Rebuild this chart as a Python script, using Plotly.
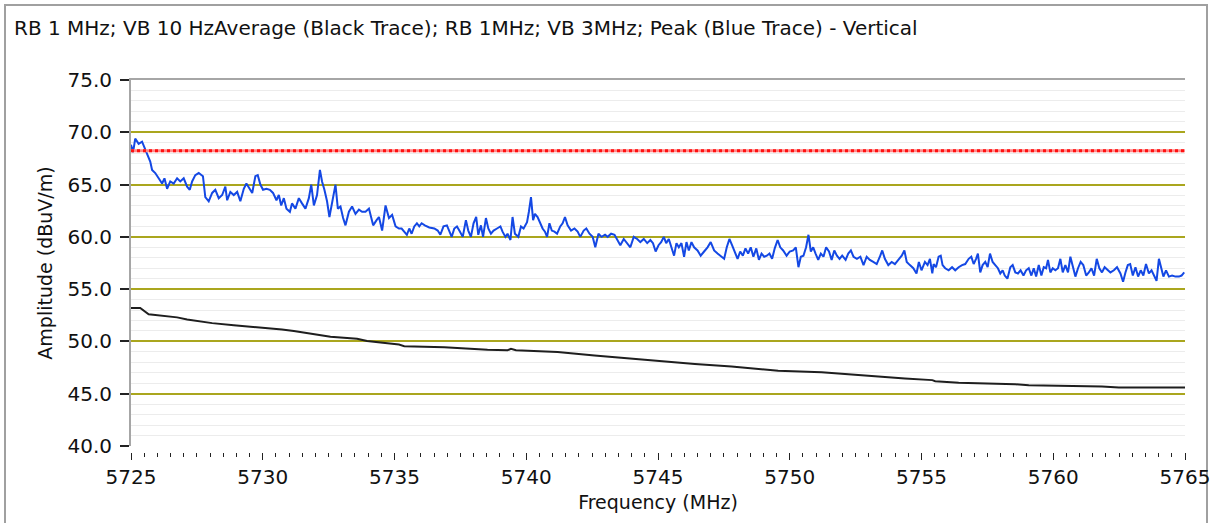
import plotly.graph_objects as go

# ---------------- data ----------------
peak_freq_a = [5725.00, 5725.08, 5725.16, 5725.29, 5725.42, 5725.54, 5725.63, 5725.73, 5725.80, 5725.92,
               5726.05, 5726.18, 5726.27, 5726.37, 5726.49, 5726.62, 5726.75, 5726.87, 5727.00, 5727.13,
               5727.23, 5727.32, 5727.44, 5727.57, 5727.73, 5727.82, 5727.95, 5728.08, 5728.20, 5728.33,
               5728.46, 5728.58, 5728.65, 5728.77, 5728.90, 5729.03, 5729.15, 5729.28, 5729.38, 5729.51,
               5729.60, 5729.72, 5729.81, 5729.91, 5730.01, 5730.14, 5730.27, 5730.39, 5730.52, 5730.61,
               5730.70, 5730.80, 5730.90, 5731.03, 5731.11, 5731.24, 5731.37, 5731.49, 5731.62, 5731.75,
               5731.84, 5731.94, 5732.06, 5732.17, 5732.25, 5732.34, 5732.44, 5732.53, 5732.63, 5732.76,
               5732.85, 5732.95, 5733.05, 5733.14, 5733.27, 5733.39, 5733.52, 5733.65, 5733.77, 5733.90,
               5734.03, 5734.19, 5734.32, 5734.41, 5734.53, 5734.66, 5734.79, 5734.91, 5735.04, 5735.17]
peak_amp_a = [68.8, 68.1, 69.4, 68.9, 69.1, 68.3, 67.8, 67.2, 66.4, 66.1,
              65.6, 65.1, 65.6, 64.6, 65.3, 65.1, 65.6, 65.3, 65.6, 64.8,
              64.5, 65.3, 65.9, 66.1, 65.8, 63.8, 63.4, 64.2, 64.5, 63.7,
              64.0, 64.8, 63.5, 64.3, 64.0, 64.3, 63.4, 64.6, 65.1, 64.5,
              64.2, 65.8, 65.9, 65.0, 64.5, 64.6, 64.5, 64.2, 63.5, 64.0,
              63.0, 63.7, 62.7, 62.4, 63.2, 62.7, 63.7, 63.2, 62.7, 63.7,
              65.0, 63.0, 64.0, 66.4, 65.3, 64.5, 63.4, 61.9, 63.2, 65.0,
              62.7, 62.9, 61.8, 61.1, 62.4, 62.9, 62.2, 62.6, 62.4, 62.4,
              62.7, 61.1, 61.6, 61.9, 60.6, 63.0, 61.8, 62.1, 61.0, 60.8]

peak_freq_b = [5735.27, 5735.37, 5735.47, 5735.56, 5735.65, 5735.75, 5735.85, 5735.94, 5736.03, 5736.15,
               5736.32, 5736.51, 5736.64, 5736.74, 5736.86, 5736.99, 5737.08, 5737.17, 5737.27, 5737.37,
               5737.46, 5737.59, 5737.71, 5737.80, 5737.90, 5738.00, 5738.10, 5738.18, 5738.28, 5738.36,
               5738.47, 5738.56, 5738.66, 5738.76, 5738.89, 5739.02, 5739.10, 5739.21, 5739.29, 5739.40,
               5739.48, 5739.57, 5739.70, 5739.80, 5739.90, 5740.03, 5740.10, 5740.18, 5740.26, 5740.33,
               5740.43, 5740.53, 5740.62, 5740.71, 5740.79, 5740.88, 5740.97, 5741.07, 5741.17, 5741.29,
               5741.38, 5741.47, 5741.57, 5741.70, 5741.83, 5741.95, 5742.05, 5742.18, 5742.28, 5742.40,
               5742.52, 5742.62, 5742.74, 5742.86, 5742.99, 5743.09, 5743.22, 5743.35, 5743.45, 5743.57,
               5743.70, 5743.83, 5743.95, 5744.08, 5744.21, 5744.33, 5744.46, 5744.59, 5744.71, 5744.81,
               5744.91, 5745.02, 5745.12, 5745.22, 5745.31]
peak_amp_b = [60.8, 60.5, 60.2, 60.8, 60.3, 61.0, 61.3, 61.0, 61.3, 61.1,
              60.9, 60.8, 60.6, 60.2, 61.0, 61.1, 60.6, 60.0, 60.8, 61.0,
              60.6, 60.0, 61.6, 60.6, 60.0, 61.3, 61.9, 60.2, 61.1, 60.0,
              61.8, 60.8, 60.3, 60.6, 60.8, 61.0, 60.5, 60.0, 60.3, 59.7,
              61.9, 60.3, 60.0, 61.0, 60.8, 61.4, 62.4, 63.8, 61.6, 62.2,
              61.9, 61.3, 60.8, 60.5, 60.0, 61.3, 60.6, 60.5, 60.3, 61.0,
              61.3, 61.9, 61.1, 60.6, 60.8, 60.5, 60.0, 60.6, 60.8, 60.3,
              60.0, 59.0, 60.3, 60.0, 60.2, 60.0, 60.3, 60.2, 59.7, 59.2,
              59.8, 59.4, 59.0, 60.0, 59.8, 59.5, 59.8, 59.4, 59.7, 59.4,
              58.6, 59.2, 59.5, 60.0, 59.4]

peak_freq_c = [5745.41, 5745.51, 5745.61, 5745.70, 5745.79, 5745.89, 5745.99, 5746.08, 5746.17, 5746.27,
               5746.37, 5746.50, 5746.62, 5746.75, 5746.88, 5747.00, 5747.13, 5747.26, 5747.38, 5747.51,
               5747.61, 5747.71, 5747.81, 5747.92, 5748.02, 5748.12, 5748.22, 5748.32, 5748.42, 5748.52,
               5748.62, 5748.73, 5748.83, 5748.93, 5749.03, 5749.13, 5749.23, 5749.33, 5749.43, 5749.54,
               5749.64, 5749.75, 5749.88, 5750.00, 5750.13, 5750.23, 5750.33, 5750.42, 5750.52, 5750.62,
               5750.71, 5750.80, 5750.89, 5750.98, 5751.08, 5751.18, 5751.28, 5751.38, 5751.49, 5751.59,
               5751.69, 5751.79, 5751.89, 5751.99, 5752.12, 5752.22, 5752.32, 5752.42, 5752.55, 5752.68,
               5752.80, 5752.92, 5753.04, 5753.17, 5753.30, 5753.42, 5753.51, 5753.61, 5753.74, 5753.87,
               5753.99, 5754.12, 5754.25, 5754.35, 5754.44, 5754.56, 5754.69, 5754.81, 5754.90, 5755.00,
               5755.13, 5755.23, 5755.32, 5755.41]
peak_amp_c = [59.8, 59.0, 58.2, 59.4, 59.0, 59.4, 58.1, 59.5, 58.7, 59.5,
              59.0, 58.7, 58.2, 58.6, 59.0, 59.5, 58.7, 58.4, 58.2, 57.9,
              59.0, 59.8, 59.2, 58.6, 57.9, 58.6, 58.2, 58.9, 58.4, 59.0,
              58.1, 58.9, 57.8, 58.4, 58.1, 58.2, 58.4, 57.9, 58.9, 59.7,
              59.0, 58.7, 58.2, 58.6, 58.7, 59.0, 57.1, 58.1, 58.2, 59.0,
              60.2, 58.6, 59.0, 58.4, 57.8, 58.4, 58.1, 59.0, 58.6, 57.8,
              58.7, 58.2, 57.9, 58.2, 57.8, 58.4, 58.7, 58.1, 57.9, 58.1,
              57.3, 58.1, 57.8, 57.6, 57.4, 58.1, 58.7, 57.9, 57.3, 57.6,
              57.4, 57.8, 58.2, 58.7, 57.6, 57.3, 57.0, 56.5, 57.6, 56.8,
              57.6, 57.3, 57.9, 56.5]

peak_freq_d = [5755.46, 5755.55, 5755.65, 5755.73, 5755.80, 5755.90, 5756.03, 5756.16, 5756.28, 5756.41,
               5756.54, 5756.66, 5756.79, 5756.89, 5756.98, 5757.07, 5757.14, 5757.23, 5757.32, 5757.42,
               5757.51, 5757.60, 5757.70, 5757.80, 5757.90, 5757.99, 5758.08, 5758.16, 5758.26, 5758.37,
               5758.46, 5758.56, 5758.66, 5758.76, 5758.87, 5758.97, 5759.07, 5759.17, 5759.26, 5759.35,
               5759.45, 5759.55, 5759.64, 5759.73, 5759.80, 5759.89, 5759.98, 5760.08, 5760.18, 5760.27,
               5760.36, 5760.46, 5760.56, 5760.65, 5760.74, 5760.84, 5760.94, 5761.04, 5761.14, 5761.25,
               5761.35, 5761.45, 5761.55, 5761.65, 5761.75, 5761.85, 5761.95, 5762.06, 5762.17, 5762.30,
               5762.42, 5762.55, 5762.65, 5762.74, 5762.83, 5762.92, 5763.02, 5763.12, 5763.22, 5763.32,
               5763.42, 5763.52, 5763.63, 5763.73, 5763.83, 5763.92, 5764.01, 5764.09, 5764.18, 5764.28,
               5764.39, 5764.51, 5764.64, 5764.77, 5764.87, 5764.97]
peak_amp_d = [57.4, 57.1, 58.1, 58.2, 57.3, 57.0, 56.8, 57.1, 56.8, 57.1,
              57.3, 57.4, 57.9, 58.1, 57.4, 57.9, 58.4, 56.6, 57.3, 57.6,
              57.1, 58.4, 57.6, 57.3, 57.0, 56.5, 56.8, 56.3, 56.0, 57.1,
              57.3, 56.6, 56.5, 56.8, 56.3, 56.8, 57.0, 56.3, 57.0, 56.2,
              57.3, 56.3, 57.1, 57.0, 57.8, 56.6, 57.0, 56.8, 57.0, 57.9,
              56.6, 57.3, 56.6, 58.1, 57.1, 56.2, 57.0, 57.6, 57.3, 56.3,
              56.6, 57.0, 56.3, 57.9, 57.0, 56.6, 57.1, 56.8, 56.6, 56.8,
              57.1, 56.5, 55.7, 56.6, 57.3, 57.4, 56.3, 57.1, 56.2, 56.8,
              56.3, 57.4, 56.5, 56.8, 56.3, 55.8, 57.9, 57.0, 56.2, 56.8,
              56.2, 56.3, 56.2, 56.2, 56.3, 56.6]

avg_freq = [5725.00, 5725.35, 5725.67, 5725.99, 5726.75, 5727.13, 5727.57, 5728.08, 5728.90, 5729.85,
            5730.29, 5730.73, 5731.18, 5731.68, 5732.19, 5732.57, 5733.58, 5733.96, 5734.47, 5735.17,
            5735.37, 5736.89, 5738.53, 5739.29, 5739.42, 5739.61, 5741.19, 5742.08, 5742.59, 5743.60,
            5744.29, 5745.12, 5745.38, 5746.40, 5747.79, 5748.80, 5749.56, 5751.21, 5752.41, 5753.36,
            5754.37, 5755.41, 5755.52, 5756.41, 5758.56, 5759.07, 5761.85, 5762.49, 5765.00]
avg_amp = [53.2, 53.2, 52.6, 52.5, 52.3, 52.1, 51.95, 51.75, 51.55, 51.35,
           51.3, 51.15, 51.0, 50.8, 50.6, 50.45, 50.25, 50.05, 49.9, 49.7,
           49.55, 49.45, 49.2, 49.15, 49.3, 49.15, 49.0, 48.75, 48.65, 48.45,
           48.3, 48.1, 48.0, 47.85, 47.6, 47.4, 47.2, 47.05, 46.85, 46.65,
           46.45, 46.3, 46.2, 46.05, 45.9, 45.8, 45.7, 45.6, 45.6]

limit_freq = [5725, 5765]
limit_amp = [68.23, 68.23]

y_ticks = [40, 45, 50, 55, 60, 65, 70, 75]
y_major_grid = [45, 50, 55, 60, 65, 70]
x_range = [5725, 5765]
y_range = [40, 75]

title_text = "RB 1 MHz; VB 10 HzAverage (Black Trace); RB 1MHz; VB 3MHz; Peak (Blue Trace) - Vertical"
x_title = "Frequency (MHz)"
y_title = "Amplitude (dBuV/m)"

# ---------------- assemble ----------------
peak_freq = peak_freq_a + peak_freq_b + peak_freq_c + peak_freq_d
peak_amp = peak_amp_a + peak_amp_b + peak_amp_c + peak_amp_d
assert len(peak_freq) == len(peak_amp), (len(peak_freq), len(peak_amp))
assert len(avg_freq) == len(avg_amp)

FONT = "DejaVu Sans"
TXT = "#111111"
OLIVE = "#aaa61e"

fig = go.Figure()
fig.add_trace(go.Scatter(x=peak_freq, y=peak_amp, mode="lines",
                         line=dict(color="#1448e4", width=2), hoverinfo="skip"))
# average trace on the overlay y-axis (same range) so that axis' olive grid is rendered
fig.add_trace(go.Scatter(x=avg_freq, y=avg_amp, mode="lines", xaxis="x", yaxis="y2",
                         line=dict(color="#1e1e1e", width=2), hoverinfo="skip"))
# limit line (on overlay x-axis so it is drawn on top)
fig.add_trace(go.Scatter(x=limit_freq, y=limit_amp, mode="lines", xaxis="x2", yaxis="y",
                         line=dict(color="#ff8a8a", width=3), hoverinfo="skip"))
fig.add_trace(go.Scatter(x=limit_freq, y=limit_amp, mode="lines", xaxis="x2", yaxis="y",
                         line=dict(color="#ff1010", width=3, dash="3px,3px"), hoverinfo="skip"))

H = 523
W = 1214
ml, mr, mt, mb = 131, 29, 80, 71
plot_h = H - mt - mb
gap = 6

fig.update_layout(
    width=W, height=H,
    margin=dict(l=ml, r=mr, t=mt, b=mb, pad=0, autoexpand=False),
    paper_bgcolor="white", plot_bgcolor="white",
    showlegend=False,
    font=dict(family=FONT, size=20, color=TXT),
    title=dict(text=title_text, x=14 / W, xanchor="left", xref="container",
               y=1 - 28 / H, yanchor="middle", yref="container",
               font=dict(family=FONT, size=20, color=TXT)),
    xaxis=dict(range=x_range, dtick=5, tick0=5725, anchor="free", position=0, automargin=False,
               showline=False, showgrid=False, zeroline=False,
               ticks="outside", ticklen=7, tickwidth=1, tickcolor="#222222",
               minor=dict(dtick=0.5, ticks="outside", ticklen=4, tickwidth=1, tickcolor="#222222", showgrid=False),
               tickfont=dict(family=FONT, size=20, color=TXT),
               title=dict(text=x_title, standoff=7, font=dict(family=FONT, size=19, color=TXT))),
    xaxis2=dict(range=x_range, overlaying="x", side="top", anchor="y", automargin=False,
                showline=True, linecolor="#a6a6a6", linewidth=2, ticks="", showticklabels=False,
                showgrid=False, zeroline=False),
    yaxis=dict(range=y_range, tickvals=y_ticks, tickformat=".1f", domain=[gap / plot_h, 1], automargin=False,
               showline=True, linecolor="#a6a6a6", linewidth=2, showgrid=False, zeroline=False,
               ticks="outside", ticklen=9, tickwidth=1.5, tickcolor="#222222",
               ticklabelstandoff=4,
               minor=dict(dtick=1, tick0=40, showgrid=True, gridcolor="#ececec", gridwidth=1, ticks=""),
               tickfont=dict(family=FONT, size=20, color=TXT),
               title=dict(text=y_title, standoff=10, font=dict(family=FONT, size=19, color=TXT))),
    yaxis2=dict(range=y_range, overlaying="y", anchor="x", tickvals=y_major_grid, automargin=False,
                showticklabels=False, ticks="", showline=False, zeroline=False,
                showgrid=True, gridcolor=OLIVE, gridwidth=2),
)

# outer frame of the chart panel
fig.add_shape(type="rect", xref="paper", yref="paper",
              x0=(5 - ml) / (W - ml - mr), x1=(1207 - ml) / (W - ml - mr),
              y0=-0.3, y1=(H - mb - 5) / plot_h,
              line=dict(color="#a0a0a0", width=2), fillcolor="rgba(0,0,0,0)", layer="below")

fig.write_html("out.html", config={"displayModeBar": False},
               post_script="document.body.style.margin='0px';")
